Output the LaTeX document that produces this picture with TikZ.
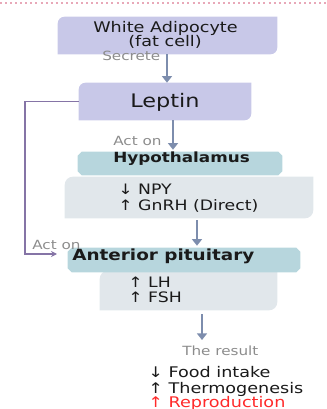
\documentclass[tikz,border=0pt]{standalone}
\usepackage{fontspec}
\setmainfont{DejaVu Sans}[FakeStretch=1.2]
\usetikzlibrary{arrows.meta,fit,backgrounds}
\definecolor{lav}{HTML}{C8C8E8}
\definecolor{tealbox}{HTML}{B7D6DD}
\definecolor{pale}{HTML}{E1E7EB}
\definecolor{arrc}{HTML}{7D8DAD}
\definecolor{fbc}{HTML}{8574A6}
\definecolor{txt}{HTML}{1A1A1A}
\definecolor{gtxt}{HTML}{8C8C8C}
\definecolor{redt}{HTML}{FF2A2A}
\definecolor{pinkdot}{HTML}{E8A8B8}
\newcommand\diagfill[3]{%
  \fill[#2] (#1.south west) -- ([yshift=-#3]#1.north west)
    arc[start angle=180,end angle=90,radius=#3] -- (#1.north east)
    -- ([yshift=#3]#1.south east)
    arc[start angle=0,end angle=-90,radius=#3] -- cycle;}
\newcommand\chamfill[3]{%
  \fill[#2] ([xshift=#3]#1.north west) -- ([xshift=-#3]#1.north east)
    -- ([yshift=-#3]#1.north east) -- ([yshift=#3]#1.south east)
    -- ([xshift=-#3]#1.south east) -- ([xshift=#3]#1.south west)
    -- ([yshift=#3]#1.south west) -- ([yshift=-#3]#1.north west) -- cycle;}
\tikzset{
  boxn/.style={inner sep=0pt, draw=none},
  lbl/.style={inner sep=0pt, text=txt},
  small/.style={lbl, text=gtxt, font=\fontsize{9.5}{11}\selectfont},
  body/.style={lbl, font=\fontsize{10.8}{12}\selectfont},
  head/.style={lbl, font=\bfseries\fontsize{10.5}{12}\selectfont},
  arr/.style={draw=arrc, line width=2pt, -{Triangle[width=7.5pt,length=5pt]}},
  fb/.style={draw=fbc, line width=1pt, -{Stealth[length=4.5pt,width=4.5pt]}}
}
\begin{document}
\begin{tikzpicture}[x=0.75pt,y=-0.75pt]
\useasboundingbox (0,0) rectangle (327,409);
\draw[pinkdot, line width=1.5pt, dash pattern=on 1.5pt off 2.3pt] (0,3) -- (327,3);

% boxes
\node[boxn, fit={(58,17) (277,54)}] (adip) {};
\node[boxn, fit={(79,83) (251,120)}] (lep) {};
\node[boxn, fit={(78,152) (282,175)}] (hyp) {};
\node[boxn, fit={(65,177) (313,218)}] (npy) {};
\node[boxn, fit={(68,248) (300,272)}] (ant) {};
\node[boxn, fit={(100,271) (277,310)}] (lh) {};

\begin{pgfonlayer}{background}
  \diagfill{adip}{lav}{5pt}
  \diagfill{lep}{lav}{5pt}
  \chamfill{hyp}{tealbox}{3pt}
  \diagfill{npy}{pale}{6pt}
  \diagfill{lh}{pale}{6pt}
  \chamfill{ant}{tealbox}{3pt}
\end{pgfonlayer}

% texts
\node[lbl, anchor=base, font=\fontsize{11}{13}\selectfont] (adipA) at (165.5,33) {White Adipocyte};
\node[lbl, anchor=base, font=\fontsize{11}{13}\selectfont] (adipB) at (165,47) {(fat cell)};
\node[small, anchor=base west] (secr) at (102,61) {Secrete};
\node[lbl, anchor=base, font=\fontsize{14}{16}\selectfont] (lepT) at (165,108) {Leptin};
\node[small, anchor=base west] (act1) at (113,146) {Act on};
\node[head, anchor=base west] (hypT) at (113,163) {Hypothalamus};
\node[body, anchor=base west] (npyT) at (118,195) {↓ NPY};
\node[body, anchor=base west] (gnrhT) at (118,210) {↑ GnRH (Direct)};
\node[small, anchor=base west] (act2) at (32,249) {Act on};
\node[head, anchor=base west, font=\bfseries\fontsize{11.5}{13}\selectfont] (antT) at (72,260) {Anterior pituitary};
\node[body, anchor=base west] (lhT) at (128,287) {↑ LH};
\node[body, anchor=base west] (fshT) at (128,302) {↑ FSH};
\node[small, anchor=base west] (resT) at (182,355) {The result};
\node[body, anchor=base west, font=\fontsize{11}{13}\selectfont] (food) at (148,377) {↓ Food intake};
\node[body, anchor=base west, font=\fontsize{11}{13}\selectfont] (thermo) at (148,393) {↑ Thermogenesis};
\node[body, anchor=base west, text=redt, font=\fontsize{11}{13}\selectfont] (repro) at (148,407) {↑ Reproduction};

% connectors
\draw[arr] (adip.south -| 167,0) -- (lep.north -| 167,0);
\draw[arr, shorten >=1.5pt] (lep.south -| 173,0) -- (hyp.north -| 173,0);
\draw[arr, shorten <=1.5pt, shorten >=1.5pt] (npy.south -| 197,0) -- (ant.north -| 197,0);
\coordinate (resend) at (202,340);
\draw[arr, shorten <=3pt] (lh.south -| resend) -- (resend);
\coordinate (fbend) at (57,254);
\draw[fb] (lep.west) -| (25,254) -- (fbend);
\end{tikzpicture}
\end{document}
